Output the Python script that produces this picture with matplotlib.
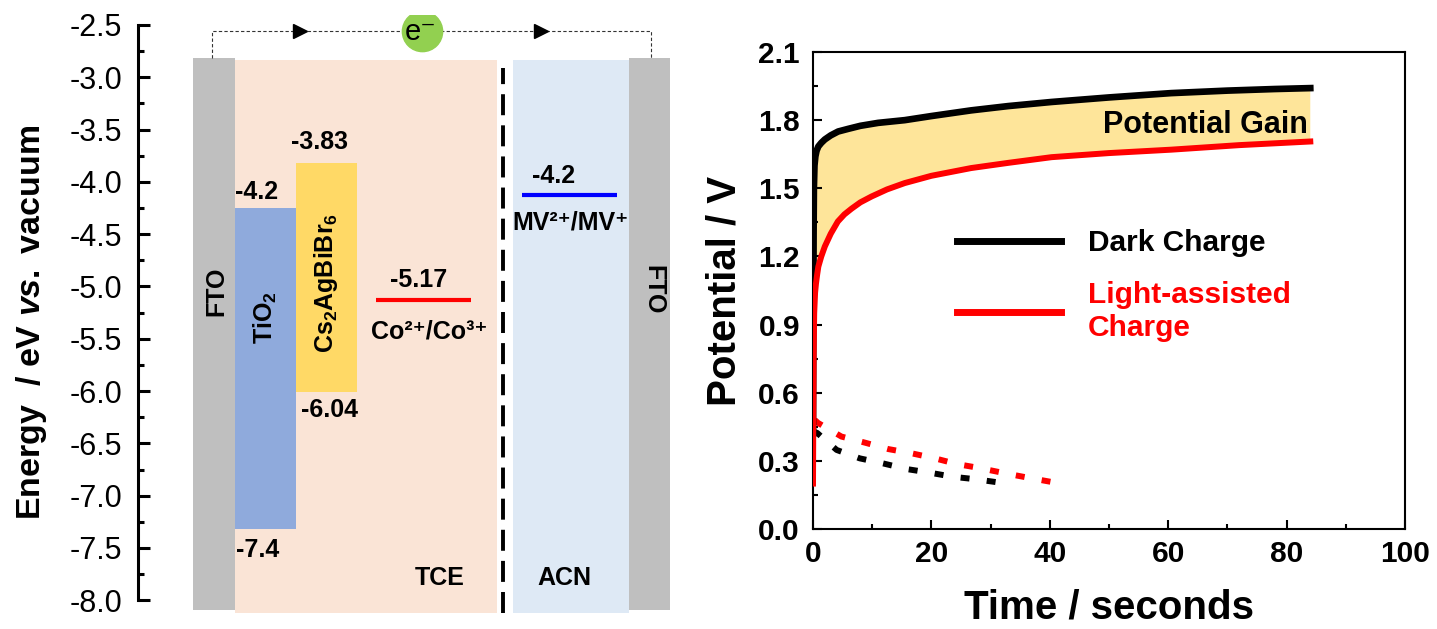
import numpy as np
import matplotlib
matplotlib.use("Agg")
import matplotlib.pyplot as plt
from matplotlib.ticker import MultipleLocator, FormatStrFormatter

plt.rcParams.update({
    "font.family": ["Liberation Sans", "DejaVu Sans"],
    "axes.unicode_minus": False,
    "mathtext.fontset": "custom",
    "mathtext.rm": "Liberation Sans:bold",
    "mathtext.it": "Liberation Sans:italic:bold",
    "mathtext.bf": "Liberation Sans:bold",
    "mathtext.default": "rm",
})

# ---------------- data: energy diagram ----------------
layers = ["FTO", "TiO$_2$", "Cs$_2$AgBiBr$_6$", "FTO"]
tio2_band = (-4.25, -7.32)          # drawn top / bottom (eV)
tio2_labels = ("-4.2", "-7.4")
cs_band = (-3.82, -6.01)
cs_labels = ("-3.83", "-6.04")
co_level = -5.13
co_label = "-5.17"
co_couple = "Co²⁺/Co³⁺"
mv_level = -4.13
mv_label = "-4.2"
mv_couple = "MV²⁺/MV⁺"
electrolytes = ["TCE", "ACN"]
electrode_top = -2.815
cell_top = -2.83
cell_bottom = -8.12
electrode_bottom = -8.09
wire_level = -2.556
energy_ticks = np.arange(-8.0, -2.49, 0.5)

# ---------------- data: potential vs time ----------------
t_dark = [0, 0.05, 0.1, 0.15, 0.25, 0.4, 0.6, 0.9, 1.4, 2, 3, 4.25, 6, 8, 11,
          15.5, 20, 26.7, 33, 40.3, 50, 60.5, 70, 78, 84]
v_dark = [0.42, 0.9, 1.3, 1.5, 1.6, 1.64, 1.665, 1.684, 1.70, 1.715, 1.733, 1.75,
          1.762, 1.775, 1.788, 1.80, 1.818, 1.843, 1.862, 1.88, 1.90, 1.919, 1.93,
          1.937, 1.941]
t_light = [0, 0.05, 0.1, 0.2, 0.35, 0.5, 0.7, 0.9, 1.4, 2, 3, 4.2, 5.3, 6.5, 8,
           9.9, 12.5, 15.5, 20, 26.7, 33, 40.3, 50, 60.5, 72, 84]
v_light = [0.2, 0.5, 0.75, 0.95, 1.04, 1.08, 1.12, 1.155, 1.2, 1.244, 1.30, 1.354,
           1.385, 1.41, 1.438, 1.464, 1.495, 1.523, 1.555, 1.589, 1.612, 1.637,
           1.655, 1.67, 1.69, 1.706]
t_dark_decay = [0, 0.7, 4.0, 7.9, 11.8, 15.8, 19.7, 23.6, 27.5, 31.6]
v_dark_decay = [0.43, 0.423, 0.348, 0.311, 0.289, 0.264, 0.248, 0.230, 0.219, 0.204]
t_light_decay = [0.3, 0.85, 4.8, 8.8, 12.7, 16.7, 20.6, 24.3, 28, 32.5, 36.5, 40.1]
v_light_decay = [0.48, 0.467, 0.407, 0.38, 0.352, 0.333, 0.311, 0.286, 0.269, 0.245,
                 0.225, 0.208]
series_labels = ["Dark Charge", "Light-assisted\nCharge"]

W, H = 1437, 629
fig = plt.figure(figsize=(W / 100, H / 100), dpi=100)

# ---------------- left panel ----------------
axL = fig.add_axes([138 / W, 1 - 615 / H, 552 / W, 600 / H])
axL.set_xlim(138, 690)
axL.set_ylim(-8.1406, -2.4044)

def box(x0, x1, y0, y1, color, z=1):
    axL.fill_between([x0, x1], [y0, y0], [y1, y1], color=color, lw=0, zorder=z)

GRAY = "#BFBFBF"
box(235, 497, cell_bottom, cell_top, "#FAE4D6")
box(513, 629, cell_bottom, cell_top, "#DEE9F5")
box(193, 235, electrode_bottom, electrode_top, GRAY, 2)
box(629, 670, electrode_bottom, electrode_top, GRAY, 2)
box(235, 296, tio2_band[1], tio2_band[0], "#8FAADC", 3)
box(296, 357, cs_band[1], cs_band[0], "#FFD966", 3)
axL.plot([376, 471], [co_level, co_level], color="#FF0000", lw=3, solid_capstyle="butt", zorder=4)
axL.plot([522, 617], [mv_level, mv_level], color="#0000FF", lw=3, solid_capstyle="butt", zorder=4)
axL.plot([503, 503], [cell_bottom, -2.91], color="black", lw=2.8,
         dashes=(5.4, 2.6), zorder=4)

# electron path
axL.plot([212, 212, 651, 651], [electrode_top, wire_level, wire_level, electrode_top],
         color="#333333", lw=0.8, dashes=(3, 2), zorder=4)
axL.plot([300, 541], [wire_level, wire_level], ls="none", marker=">", ms=10,
         color="black", zorder=5)
axL.plot([422], [wire_level], ls="none", marker="o", ms=29, color="#92D050",
         mec="#92D050", zorder=5)
axL.text(421, wire_level - 0.01, "e⁻", fontsize=21, ha="center", va="center",
         zorder=6, fontweight="normal")

bold = dict(fontweight="bold", fontsize=18, ha="center", va="center", zorder=6)
axL.text(216, -5.05, layers[0], rotation=90, **bold)
axL.text(653, -5.03, layers[3], rotation=-90, **bold)
axL.text(265, -5.3, layers[1], rotation=90, **bold)
axL.text(326, -4.97, layers[2], rotation=90, **bold)
axL.text(257, tio2_band[0] + 0.15, tio2_labels[0], **bold)
axL.text(258, tio2_band[1] - 0.2, tio2_labels[1], **bold)
axL.text(320, cs_band[0] + 0.2, cs_labels[0], **bold)
axL.text(330, cs_band[1] - 0.17, cs_labels[1], **bold)
axL.text(419, co_level + 0.19, co_label, **bold)
axL.text(429, co_level - 0.3, co_couple, **bold)
axL.text(554, mv_level + 0.19, mv_label, **bold)
axL.text(571, mv_level - 0.26, mv_couple, **bold)
axL.text(440, -7.79, electrolytes[0], **bold)
axL.text(564, -7.79, electrolytes[1], **bold)

for s in ["top", "right", "bottom"]:
    axL.spines[s].set_visible(False)
axL.spines["left"].set_linewidth(2.2)
axL.spines["left"].set_bounds(-8.0, -2.5)
axL.set_xticks([])
axL.set_yticks(energy_ticks)
axL.yaxis.set_minor_locator(MultipleLocator(0.25))
axL.yaxis.set_major_formatter(FormatStrFormatter("%.1f"))
axL.tick_params(axis="y", which="major", direction="in", length=8.6, width=2.2,
                pad=11.5, labelsize=22)
axL.tick_params(axis="y", which="minor", direction="in", length=4.3, width=2.2)
axL.set_ylabel("Energy  / eV $\\mathit{vs.}$ vacuum", fontsize=24.5, fontweight="bold")
axL.yaxis.set_label_coords(-0.161, 0.487)

# ---------------- right panel ----------------
axR = fig.add_axes([813 / W, 1 - 529 / H, 592 / W, 477 / H])
axR.set_xlim(0, 100)
axR.set_ylim(0, 2.1)
axR.fill(np.concatenate([t_dark, t_light[::-1]]),
         np.concatenate([v_dark, v_light[::-1]]), color="#FEE59A", lw=0, zorder=1)
axR.plot(t_dark, v_dark, color="black", lw=4.8, label=series_labels[0], zorder=3,
         solid_joinstyle="round")
axR.plot(t_light, v_light, color="#FF0000", lw=4.3, label=series_labels[1], zorder=3,
         solid_joinstyle="round")
axR.plot(t_dark_decay, v_dark_decay, color="black", lw=4.3, dashes=(1.5, 2.9), zorder=2)
axR.plot(t_light_decay, v_light_decay, color="#FF0000", lw=4.3, dashes=(1.5, 2.9), zorder=2)
axR.text(0.8367, 0.8463, "Potential Gain", transform=axR.transAxes, fontsize=22,
         fontweight="bold", ha="right", va="center", zorder=4)

leg = axR.legend(loc="upper left", bbox_to_anchor=(0.243, 0.628), frameon=False,
                 handlelength=3.5, handletextpad=0.9, labelspacing=0.8,
                 borderpad=0, borderaxespad=0, prop=dict(weight="bold", size=21.5))
for h in leg.get_lines():
    h.set_linewidth(5)
leg.get_texts()[1].set_color("#FF0000")

axR.xaxis.set_major_locator(MultipleLocator(20))
axR.xaxis.set_minor_locator(MultipleLocator(10))
axR.yaxis.set_major_locator(MultipleLocator(0.3))
axR.yaxis.set_minor_locator(MultipleLocator(0.15))
axR.yaxis.set_major_formatter(FormatStrFormatter("%.1f"))
for s in axR.spines.values():
    s.set_linewidth(1.5)
axR.tick_params(which="both", direction="in", width=1.5, top=False, right=False)
axR.tick_params(which="major", length=6.5)
axR.tick_params(which="minor", length=3.6)
axR.tick_params(axis="y", pad=9.4)
axR.tick_params(axis="x", pad=8)
for lab in axR.get_xticklabels() + axR.get_yticklabels():
    lab.set_fontweight("bold")
    lab.set_fontsize(21.5)
axR.set_xlabel("Time / seconds", fontsize=29, fontweight="bold")
axR.xaxis.set_label_coords(0.5, -0.124)
axR.set_ylabel("Potential / V", fontsize=29, fontweight="bold")
axR.yaxis.set_label_coords(-0.1166, 0.5)

fig.savefig("out.png", dpi=100)
